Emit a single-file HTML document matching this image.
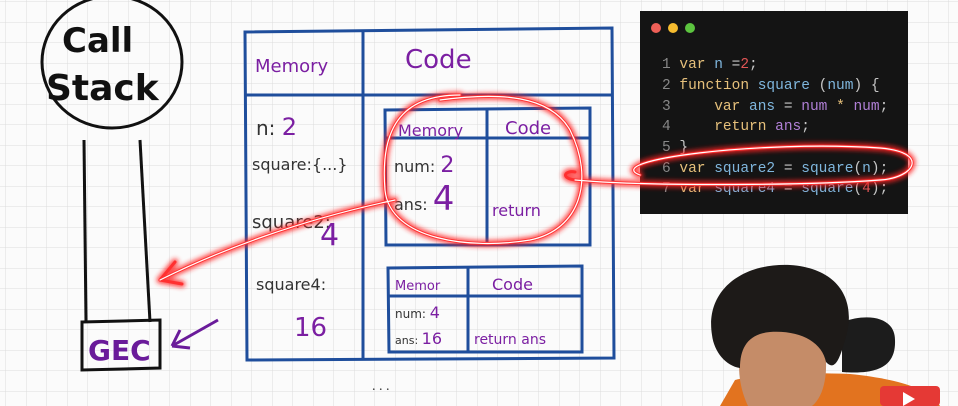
<!DOCTYPE html>
<html><head><meta charset="utf-8"><style>
html,body{margin:0;padding:0;background:#fff;}
svg{display:block}
.hw{font-family:"Comic Sans MS","DejaVu Sans",sans-serif;}
.code text{white-space:pre}
</style></head><body>
<svg width="958" height="406" viewBox="0 0 958 406" xmlns="http://www.w3.org/2000/svg">
<defs>
<pattern id="g" width="20.5" height="20.5" patternUnits="userSpaceOnUse" x="6" y="2">
<path d="M20.5 0V20.5H0" fill="none" stroke="#dcdcdc" stroke-width="1"/>
</pattern>
<filter id="glow" x="-20%" y="-20%" width="140%" height="140%"><feGaussianBlur stdDeviation="2.5"/></filter>
</defs>
<rect width="958" height="406" fill="#fbfbfb"/>
<rect width="958" height="406" fill="url(#g)"/>

<!-- Call stack -->
<ellipse cx="112" cy="62" rx="70" ry="66" fill="none" stroke="#111" stroke-width="3"/>
<text x="62" y="52" class="hw" font-size="34" fill="#111" font-weight="bold">Call</text>
<text x="46" y="100" class="hw" font-size="36" fill="#111" font-weight="bold">Stack</text>
<path d="M84 140 L86 322" stroke="#111" stroke-width="3" fill="none"/>
<path d="M140 140 L150 322" stroke="#111" stroke-width="3" fill="none"/>
<path d="M82 322 L160 320 L160 368 L82 370 Z" stroke="#111" stroke-width="3" fill="none"/>
<text x="88" y="360" class="hw" font-size="28" font-weight="bold" fill="#6a1b9a">GEC</text>
<path d="M218 320 L172 346 M172 346 L180 330 M172 346 L190 348" stroke="#6a1b9a" stroke-width="3" fill="none"/>

<!-- Big table -->
<g stroke="#1f4e9c" stroke-width="3" fill="none">
<path d="M245 32 L612 28 L614 358 L247 360 Z"/>
<path d="M245 95 L612 95"/>
<path d="M363 32 L363 360"/>
<path d="M385 110 L590 108 L590 245 L386 245 Z"/>
<path d="M385 138 L590 138"/>
<path d="M487 108 L487 245"/>
<path d="M388 268 L582 266 L582 352 L389 352 Z"/>
<path d="M388 296 L582 296"/>
<path d="M468 267 L468 352"/>
</g>
<g class="hw" fill="#7b1fa2">
<text x="255" y="72" font-size="18">Memory</text>
<text x="405" y="68" font-size="26">Code</text>
<text x="256" y="135" font-size="20" fill="#333">n: <tspan fill="#7b1fa2" font-size="24">2</tspan></text>
<text x="252" y="170" font-size="16" fill="#333">square:{...}</text>
<text x="252" y="228" font-size="18" fill="#333">square2:</text>
<text x="320" y="245" font-size="30">4</text>
<text x="256" y="290" font-size="16" fill="#333">square4:</text>
<text x="294" y="336" font-size="26">16</text>
<text x="398" y="136" font-size="16">Memory</text>
<text x="505" y="134" font-size="18">Code</text>
<text x="394" y="172" font-size="16" fill="#333">num: <tspan fill="#7b1fa2" font-size="22">2</tspan></text>
<text x="394" y="210" font-size="16" fill="#333">ans: <tspan fill="#7b1fa2" font-size="34">4</tspan></text>
<text x="492" y="216" font-size="16">return</text>
<text x="395" y="290" font-size="13">Memor</text>
<text x="492" y="290" font-size="16">Code</text>
<text x="395" y="318" font-size="12" fill="#333">num: <tspan fill="#7b1fa2" font-size="16">4</tspan></text>
<text x="395" y="344" font-size="11" fill="#333">ans: <tspan fill="#7b1fa2" font-size="16">16</tspan></text>
<text x="474" y="344" font-size="14">return ans</text>
</g>

<!-- Code editor -->
<rect x="640" y="11" width="268" height="203" fill="#141414"/>
<circle cx="656" cy="28" r="5" fill="#ee5f57"/>
<circle cx="673" cy="28" r="5" fill="#f6bc2f"/>
<circle cx="690" cy="28" r="5" fill="#5cc43f"/>
<g class="code" font-family="Liberation Mono, monospace" font-size="14.5" fill="#c7c7c7" xml:space="preserve">
<text x="662" y="68"><tspan fill="#888">1</tspan> <tspan fill="#e6c07b">var</tspan> <tspan fill="#7fb6dd">n</tspan> =<tspan fill="#e05555">2</tspan>;</text>
<text x="662" y="89"><tspan fill="#888">2</tspan> <tspan fill="#e6c07b">function</tspan> <tspan fill="#7fb6dd">square</tspan> (<tspan fill="#7fb6dd">num</tspan>) {</text>
<text x="662" y="110"><tspan fill="#888">3</tspan>     <tspan fill="#e6c07b">var</tspan> <tspan fill="#7fb6dd">ans</tspan> = <tspan fill="#b07fd6">num</tspan> <tspan fill="#e6c07b">*</tspan> <tspan fill="#b07fd6">num</tspan>;</text>
<text x="662" y="130"><tspan fill="#888">4</tspan>     <tspan fill="#e6c07b">return</tspan> <tspan fill="#b07fd6">ans</tspan>;</text>
<text x="662" y="151"><tspan fill="#888">5</tspan> }</text>
<text x="662" y="172"><tspan fill="#888">6</tspan> <tspan fill="#e6c07b">var</tspan> <tspan fill="#7fb6dd">square2</tspan> = <tspan fill="#7fb6dd">square</tspan>(<tspan fill="#7fb6dd">n</tspan>);</text>
<text x="662" y="192"><tspan fill="#888">7</tspan> <tspan fill="#e6c07b">var</tspan> <tspan fill="#7fb6dd">square4</tspan> = <tspan fill="#7fb6dd">square</tspan>(<tspan fill="#e05555">4</tspan>);</text>
</g>

<!-- Red highlights -->
<g fill="none" stroke-linecap="round">
<g stroke="#ff2020" stroke-width="7" filter="url(#glow)" opacity="0.8">
<path d="M640 175 C600 160 760 140 880 148 C930 152 915 178 880 180 C800 186 640 186 575 180 C560 178 565 170 575 172"/>
<path d="M460 95 C400 95 380 130 385 190 C390 240 470 250 530 240 C580 230 595 180 570 130 C550 95 500 92 440 100"/>
<path d="M395 200 C300 220 220 250 160 280 M160 280 L175 262 M160 280 L182 284"/>
</g>
<g stroke="#ff3030" stroke-width="3">
<path d="M640 175 C600 160 760 140 880 148 C930 152 915 178 880 180 C800 186 640 186 575 180 C560 178 565 170 575 172"/>
<path d="M460 95 C400 95 380 130 385 190 C390 240 470 250 530 240 C580 230 595 180 570 130 C550 95 500 92 440 100"/>
<path d="M395 200 C300 220 220 250 160 280 M160 280 L175 262 M160 280 L182 284"/>
</g>
<g stroke="#fff" stroke-width="1.2">
<path d="M640 175 C600 160 760 140 880 148 C930 152 915 178 880 180 C800 186 640 186 575 180"/>
<path d="M460 95 C400 95 380 130 385 190 C390 240 470 250 530 240 C580 230 595 180 570 130 C550 95 500 92 440 100"/>
<path d="M395 200 C300 220 220 250 160 280"/>
</g>
</g>

<text x="372" y="390" font-size="14" fill="#333">. . .</text>

<!-- Person -->
<path d="M842 322 C870 312 895 318 895 340 C896 365 880 375 842 372 Z" fill="#1c1c1c"/>
<path d="M720 406 L735 380 C760 374 800 372 850 374 C890 378 930 387 940 406 Z" fill="#e2731f"/>
<path d="M742 345 C748 322 800 318 822 335 C830 365 826 395 812 406 L748 406 C738 385 737 362 742 345 Z" fill="#c58c68"/>
<path d="M712 335 C705 292 740 263 790 265 C838 268 858 300 845 340 C840 358 835 372 826 362 C822 342 800 330 770 332 C748 334 740 348 740 368 C726 366 714 352 712 335 Z" fill="#1d1a18"/>
<rect x="880" y="386" width="60" height="20" rx="4" fill="#e53935"/>
<path d="M903 392 L915 399 L903 406 Z" fill="#fff"/>
</svg>
</body></html>
